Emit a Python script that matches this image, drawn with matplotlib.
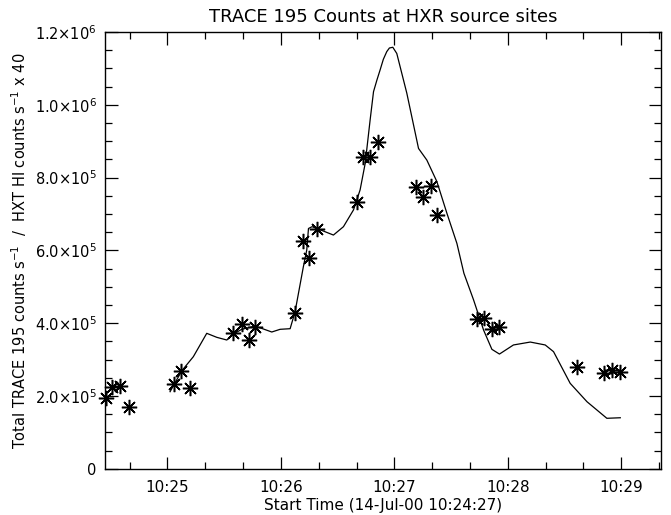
import matplotlib as mpl
import matplotlib.pyplot as plt
from matplotlib.ticker import FixedLocator, MultipleLocator

# seconds after 10:24:27 on 14-Jul-00
trace_t = [34.4, 40.6, 46.7, 53.8, 59.1, 64.4, 67.9, 72.3, 79.4, 88.2,
           92.6, 97.9, 100.5, 104.9, 106.7, 107.6, 109.5, 115.0, 120.8,
           126.1, 131.4, 134.9, 137.6, 140.2, 142.0, 143.8, 145.5, 147.2,
           149.0, 150.4, 152.2, 154.3, 159.6, 165.8, 170.2, 175.5, 180.8,
           186.1, 189.8, 194.9, 200.2, 204.6, 208.6, 216.0, 224.9, 232.8,
           237.2, 246.0, 254.9, 265.4, 272.5]
trace_counts = [211600, 269000, 307700, 372000, 361000, 353600, 370000,
                383000, 392000, 375600, 383000, 384700, 431000, 555000,
                601000, 660000, 665000, 654000, 642000, 665000, 711000,
                766000, 839000, 958000, 1036000, 1068000, 1096000, 1125000,
                1146000, 1156000, 1158000, 1141000, 1032000, 880000, 848000,
                789000, 702000, 619000, 537000, 464000, 381000, 328000,
                315000, 340000, 348000, 340000, 321600, 234600, 184000,
                138500, 140000]

hxt_t = [0.5, 3.5, 7.9, 12.9, 36.7, 40.2, 45.0, 67.9, 72.3, 76.2, 79.4,
         100.5, 104.9, 108.1, 112.3, 133.5, 136.3, 140.2, 144.4, 164.4,
         168.4, 172.5, 175.5, 196.6, 200.2, 204.6, 208.6, 249.6, 263.7,
         268.1, 272.2]
hxt_counts = [193400, 225000, 227000, 169000, 233000, 269000, 221000,
              374000, 398000, 354000, 388500, 427000, 626500, 580000,
              659000, 734000, 856000, 856000, 898000, 775000, 747000,
              778000, 697000, 411000, 415000, 384000, 390000, 278600,
              262000, 271000, 265700]

tick_t = [33, 93, 153, 213, 273]
tick_labels = ['10:25', '10:26', '10:27', '10:28', '10:29']
ytick_vals = [0, 2e5, 4e5, 6e5, 8e5, 1e6, 1.2e6]
ytick_labels = ['0', r'$2.0{\times}10^{5}$', r'$4.0{\times}10^{5}$',
                r'$6.0{\times}10^{5}$', r'$8.0{\times}10^{5}$',
                r'$1.0{\times}10^{6}$', r'$1.2{\times}10^{6}$']

dpi = 100
fig = plt.figure(dpi=dpi, figsize=(671 / dpi, 515 / dpi))
mpl.rcParams.update({'font.size': 10.5, 'mathtext.fontset': 'dejavusans'})

ax = fig.add_axes([0.1565, 0.0899, 0.8285, 0.848])
ax.plot(trace_t, trace_counts, color='black', lw=0.9)
ax.plot(hxt_t, hxt_counts, ls='none', marker=(8, 2, 0), ms=11,
        mew=1.1, color='black', clip_on=False)

ax.set_xlim(0, 294)
ax.set_ylim(0, 1.2e6)
ax.xaxis.set_major_locator(FixedLocator(tick_t))
ax.set_xticklabels(tick_labels, fontsize=11)
ax.xaxis.set_minor_locator(FixedLocator(range(13, 294, 20)))
ax.yaxis.set_major_locator(FixedLocator(ytick_vals))
ax.set_yticklabels(ytick_labels)
ax.yaxis.set_minor_locator(MultipleLocator(5e4))
ax.tick_params(which='both', direction='in', top=True, right=True,
               width=0.9)
ax.tick_params(axis='x', pad=8)
ax.tick_params(axis='y', pad=6)
ax.tick_params(which='major', length=9)
ax.tick_params(which='minor', length=5)
for s in ax.spines.values():
    s.set_linewidth(1.0)

ax.set_title('TRACE 195 Counts at HXR source sites', fontsize=13, pad=7)
ax.set_xlabel('Start Time (14-Jul-00 10:24:27)', fontsize=11, labelpad=2)
ax.set_ylabel(r'Total TRACE 195 counts s$^{-1}$  /  HXT HI counts s$^{-1}$ x 40',
              fontsize=10.5, labelpad=4)

fig.savefig('out.png')
